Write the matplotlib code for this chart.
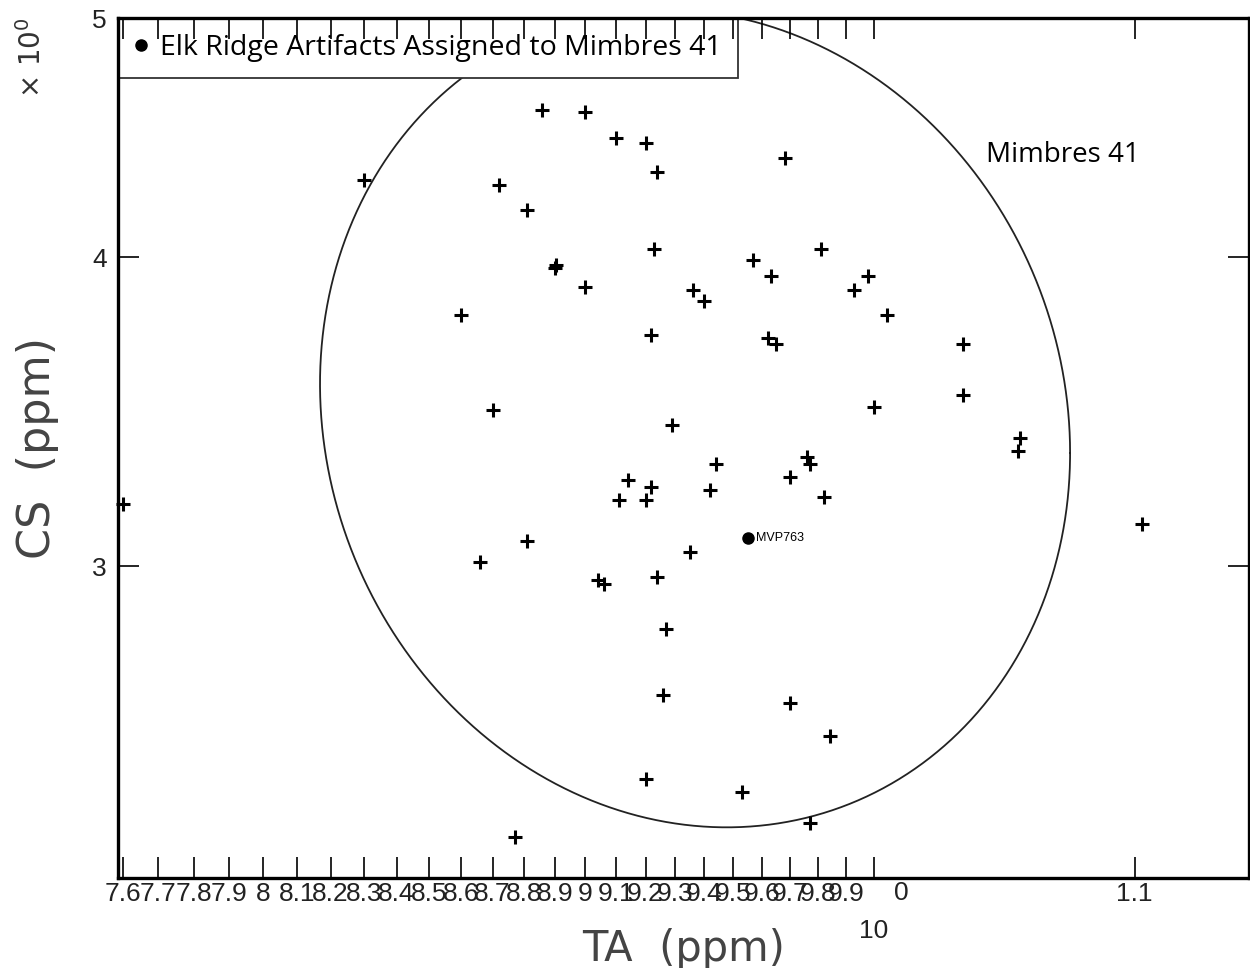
import matplotlib
matplotlib.use("Agg")
import matplotlib.pyplot as plt
import matplotlib.transforms as mtransforms
import numpy as np

# Elk Ridge artifacts (TA ppm, CS ppm)
ta = [7.60, 8.30, 8.60, 8.66, 8.70, 8.72, 8.77, 8.81, 8.81, 8.86,
      8.90, 8.905, 9.00, 9.00, 9.04, 9.06, 9.10, 9.11, 9.14, 9.20,
      9.20, 9.20, 9.22, 9.22, 9.23, 9.24, 9.24, 9.26, 9.27, 9.29,
      9.35, 9.36, 9.40, 9.42, 9.44, 9.53, 9.57, 9.63, 9.62, 9.65,
      9.68, 9.70, 9.70, 9.76, 9.77, 9.77, 9.81, 9.82, 9.84, 9.93,
      9.98, 10.00, 10.05, 10.33, 10.33, 10.54, 10.55, 11.03]
cs = [3.18, 4.30, 3.79, 3.01, 3.47, 4.28, 2.33, 3.07, 4.18, 4.59,
      3.96, 3.97, 4.58, 3.89, 2.96, 2.95, 4.47, 3.19, 3.25, 4.45,
      3.19, 2.46, 3.72, 3.23, 4.03, 2.97, 4.33, 2.66, 2.83, 3.42,
      3.04, 3.88, 3.84, 3.22, 3.30, 2.43, 3.99, 3.93, 3.71, 3.69,
      4.39, 2.64, 3.26, 3.32, 3.30, 2.36, 4.03, 3.20, 2.56, 3.88,
      3.93, 3.48, 3.79, 3.69, 3.52, 3.34, 3.38, 3.12]

# artifact assigned to Mimbres 41
mvp_ta, mvp_cs, mvp_name = 9.55, 3.08, "MVP763"

# Mimbres 41 confidence ellipse, in log10 units
ell_center = (0.97165, 0.53684)
ell_x_cos = 0.05952
ell_y_cos = -0.01398
ell_y_sin = 0.16492

xticks = [7.6, 7.7, 7.8, 7.9, 8.0, 8.1, 8.2, 8.3, 8.4, 8.5, 8.6, 8.7, 8.8,
          8.9, 9.0, 9.1, 9.2, 9.3, 9.4, 9.5, 9.6, 9.7, 9.8, 9.9, 10.0, 11.0]
xticklabels = ["7.6", "7.7", "7.8", "7.9", "8", "8.1", "8.2", "8.3", "8.4",
               "8.5", "8.6", "8.7", "8.8", "8.9", "9", "9.1", "9.2", "9.3",
               "9.4", "9.5", "9.6", "9.7", "9.8", "9.9", "", "1.1"]
yticks = [3, 4, 5]

fig = plt.figure(figsize=(12.5, 9.68), dpi=100)
ax = fig.add_axes([0.0944, 0.093, 0.9048, 0.8884])
ax.set_axisbelow(False)
ax.set_xscale("log")
ax.set_yscale("log")
ax.set_xlim(7.587, 11.47)
ax.set_ylim(2.243, 5.0)

# ellipse
t = np.linspace(0, 2 * np.pi, 500)
ex = 10 ** (ell_center[0] + ell_x_cos * np.cos(t))
ey = 10 ** (ell_center[1] + ell_y_cos * np.cos(t) + ell_y_sin * np.sin(t))
ax.plot(ex, ey, color="#222222", lw=1.3, zorder=1)

# points
ax.plot(ta, cs, "+", ls="none", color="black", ms=10, mew=2.2, clip_on=False, zorder=3)
dot, = ax.plot([mvp_ta], [mvp_cs], "o", ls="none", color="black", ms=8, zorder=3)
ax.annotate(mvp_name, (mvp_ta, mvp_cs), xytext=(6, 0), textcoords="offset points",
            va="center", ha="left", fontsize=9, family="Liberation Sans")

ax.text(10.42, 4.40, "Mimbres 41", fontsize=20, family="Open Sans",
        ha="left", va="center")

leg = ax.legend([dot], ["Elk Ridge Artifacts Assigned to Mimbres 41"],
                loc="upper left", borderaxespad=0, fancybox=False,
                framealpha=1, edgecolor="#333333", handlelength=0.5,
                handletextpad=0.4, borderpad=0.57, markerscale=1.0,
                prop={"family": "Open Sans", "size": 20.5})
leg.get_frame().set_linewidth(1.3)
leg.set_zorder(2)

# axes styling
ax.xaxis.set_minor_locator(matplotlib.ticker.NullLocator())
ax.yaxis.set_minor_locator(matplotlib.ticker.NullLocator())
ax.set_xticks(xticks)
ax.set_xticklabels(xticklabels, family="Liberation Sans", fontsize=19, color="#222222")
ax.set_yticks(yticks)
ax.set_yticklabels([str(v) for v in yticks], family="Liberation Sans", fontsize=19,
                   color="#222222")
ax.tick_params(direction="in", length=15, width=1.2, top=True, right=True)
ax.tick_params(axis="x", pad=3)
ax.tick_params(axis="y", pad=8)
for s in ax.spines.values():
    s.set_linewidth(2.4)

# exponent marks
bt = mtransforms.blended_transform_factory(ax.transData, ax.transAxes)
ax.annotate("10", (10.0, 0), xycoords=bt, xytext=(0, -38), textcoords="offset points",
            ha="center", va="center", fontsize=19, family="Liberation Sans", color="#222222")
ax.annotate("0", (10.0, 0), xycoords=bt, xytext=(20, -11), textcoords="offset points",
            ha="center", va="center", fontsize=19, family="Liberation Sans", color="#222222")
fig.text(0.026, 0.94, "× 10$^0$", rotation=90, ha="center", va="center",
         fontsize=20, color="#333333")

ax.set_xlabel("TA  (ppm)", fontsize=30, color="#444444", labelpad=16)
ax.set_ylabel("CS  (ppm)", fontsize=32, color="#444444", labelpad=24)

fig.savefig("out.png", dpi=100)
